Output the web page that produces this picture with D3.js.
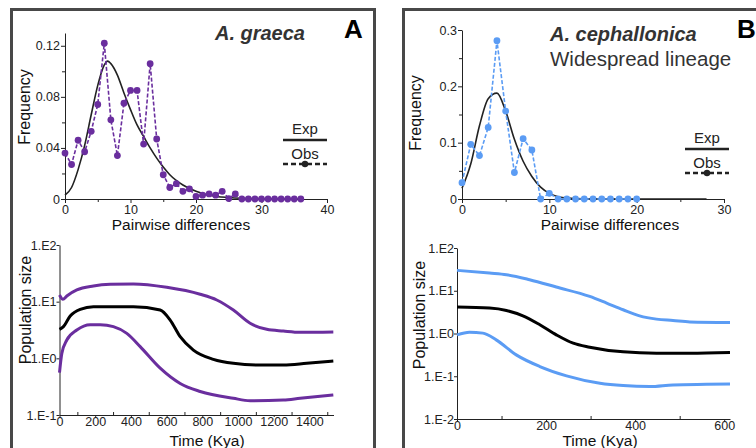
<!DOCTYPE html>
<html>
<head>
<meta charset="utf-8">
<script src="https://cdn.jsdelivr.net/npm/d3@7"></script>
<style>
  body { margin: 0; background: #fff; }
  svg, svg text { font-family: "Liberation Sans", Arial, sans-serif; }
  .axis path, .axis line { stroke: #222; }
</style>
</head>
<body>
<div id="chart-area"></div>
<script>
// ---- data: mismatch distributions ----
const obsA = [0.036, 0.027, 0.046, 0.037, 0.053, 0.074, 0.122, 0.062, 0.034, 0.075,
  0.085, 0.085, 0.043, 0.106, 0.047, 0.019, 0.009, 0.012, 0.006, 0.008,
  0.002, 0.003, 0.004, 0.003, 0.006, 0.0003, 0.004, 0, 0, 0, 0, 0, 0, 0, 0, 0, 0];
const expAx = [0, 1, 2, 3, 4, 5, 6, 6.5, 7, 8, 9, 10, 11, 12, 13, 14, 15, 16, 18, 20, 22, 25, 30, 36];
const expAy = [0.003, 0.009, 0.023, 0.042, 0.066, 0.089, 0.105, 0.108, 0.106, 0.097, 0.083, 0.07,
  0.058, 0.049, 0.04, 0.032, 0.025, 0.019, 0.011, 0.006, 0.003, 0.0012, 0.0002, 0];

const obsB = [0.029, 0.097, 0.077, 0.127, 0.281, 0.156, 0.047, 0.107, 0.087, 0, 0.01,
  0, 0, 0, 0, 0, 0, 0, 0, 0, 0];
const expBx = [0, 1, 2, 3, 4, 5, 6, 7, 8, 9, 10, 11, 12, 14, 20, 28];
const expBy = [0.019, 0.062, 0.13, 0.178, 0.188, 0.156, 0.106, 0.067, 0.04, 0.021, 0.01,
  0.004, 0.0015, 0.0003, 0, 0];

// ---- data: skyline plots (time in Kya, population size) ----
const upperAt = [0, 19, 41, 97, 190, 284, 414, 601, 788, 881, 974, 1068, 1161, 1254, 1348, 1534];
const upperA = [13.1, 11.0, 12.6, 16.1, 18.9, 20.2, 20.5, 17.9, 13.5, 10.7, 7.1, 4.15, 3.25, 3.03, 2.88, 2.92];
const medianAt = [0, 22, 60, 116, 190, 414, 564, 620, 676, 750, 862, 974, 1124, 1254, 1385, 1534];
const medianA = [3.25, 3.62, 5.58, 7.33, 8.17, 8.17, 7.13, 4.74, 2.41, 1.4, 0.96, 0.817, 0.762, 0.762, 0.817, 0.897];
const lowerAt = [0, 13, 41, 97, 172, 228, 302, 377, 452, 564, 676, 788, 974, 1068, 1254, 1348, 1534];
const lowerA = [0.56, 1.22, 2.11, 3.16, 3.93, 3.93, 3.62, 2.76, 1.61, 0.67, 0.36, 0.26, 0.197, 0.179, 0.184, 0.197, 0.225];

const upperBt = [0, 73, 111, 163, 223, 298, 336, 373, 410, 448, 485, 523, 613];
const upperB = [30, 25.9, 23.7, 18.1, 12.2, 7.36, 5.14, 3.59, 2.59, 2.17, 2.02, 1.87, 1.81];
const medianBt = [0, 73, 111, 148, 186, 223, 261, 298, 373, 448, 523, 613];
const medianB = [4.14, 3.93, 3.46, 2.59, 1.6, 0.93, 0.593, 0.479, 0.372, 0.346, 0.346, 0.359];
const lowerBt = [0, 28, 58, 88, 133, 186, 246, 321, 373, 433, 485, 560, 613];
const lowerB = [0.93, 1.07, 1.02, 0.71, 0.316, 0.169, 0.102, 0.0686, 0.0604, 0.0573, 0.0627, 0.0649, 0.0661];

const logLabels = { "100": "1.E2", "10": "1.E1", "1": "1.E0", "0.1": "1.E-1", "0.01": "1.E-2" };

const purple = "#6a2e9e";
const blue = "#5b9cf4";

const svg = d3.select("#chart-area").append("svg")
  .attr("width", 756)
  .attr("height", 448)

// panel frames
svg.append("rect")
  .attr("x", 11.5).attr("y", 9.5).attr("width", 363).attr("height", 460)
  .attr("fill", "none").attr("stroke", "#484848").attr("stroke-width", 3)
svg.append("rect")
  .attr("x", 403.5).attr("y", 9.5).attr("width", 400).attr("height", 460)
  .attr("fill", "none").attr("stroke", "#484848").attr("stroke-width", 3)

// give d3 axes our font
function styleAxis(g) {
  g.attr("font-family", "Liberation Sans, Arial, sans-serif")
    .attr("font-size", 12.5)
  g.selectAll("text").attr("fill", "#222")
}

function mismatch(cfg) {
  const x = d3.scaleLinear().domain(cfg.xDomain).range(cfg.xRange)
  const y = d3.scaleLinear().domain(cfg.yDomain).range(cfg.yRange)

  // minor ticks
  svg.append("g")
    .attr("class", "axis")
    .attr("transform", `translate(0,${cfg.yRange[0]})`)
    .call(d3.axisBottom(x).tickValues(cfg.xMinor).tickSize(3).tickFormat(""))
    .call(g => g.select(".domain").remove())
  svg.append("g")
    .attr("class", "axis")
    .attr("transform", `translate(${cfg.xRange[0]},0)`)
    .call(d3.axisLeft(y).tickValues(cfg.yMinor).tickSize(3).tickFormat(""))
    .call(g => g.select(".domain").remove())

  svg.append("g")
    .attr("class", "axis")
    .attr("transform", `translate(0,${cfg.yRange[0]})`)
    .call(d3.axisBottom(x).tickValues(cfg.xTicks).tickSize(4).tickSizeOuter(0).tickPadding(2))
    .call(styleAxis)
  svg.append("g")
    .attr("class", "axis")
    .attr("transform", `translate(${cfg.xRange[0]},0)`)
    .call(d3.axisLeft(y).tickValues(cfg.yTicks).tickSize(4).tickSizeOuter(0).tickPadding(1)
      .tickFormat(d => d === 0 ? "0" : d3.format(cfg.yFmt)(d)))
    .call(styleAxis)

  // expected
  const expLine = d3.line()
    .x((d, i) => x(cfg.expX[i]))
    .y(d => y(d))
    .curve(d3.curveMonotoneX)
  svg.append("path")
    .datum(cfg.expY)
    .attr("d", expLine)
    .attr("fill", "none")
    .attr("stroke", "#222")
    .attr("stroke-width", 1.6)

  // observed
  const obsLine = d3.line().x((d, i) => x(i)).y(d => y(d))
  svg.append("path")
    .datum(cfg.obs)
    .attr("d", obsLine)
    .attr("fill", "none")
    .attr("stroke", cfg.color)
    .attr("stroke-width", 1.6)
    .attr("stroke-dasharray", "4,2")
  svg.selectAll(null)
    .data(cfg.obs)
    .enter()
    .append("circle")
    .attr("cx", (d, i) => x(i))
    .attr("cy", d => y(d))
    .attr("r", 3.4)
    .attr("fill", cfg.color)

  // axis titles
  svg.append("text")
    .attr("x", (cfg.xRange[0] + cfg.xRange[1]) / 2 + cfg.xLabelShift)
    .attr("y", 230)
    .attr("text-anchor", "middle")
    .attr("font-size", "15.5px")
    .attr("fill", "#111")
    .text("Pairwise differences")
  svg.append("text")
    .attr("transform", `translate(${cfg.yLabelX},${cfg.yLabelY}) rotate(-90)`)
    .attr("text-anchor", "middle")
    .attr("font-size", "16px")
    .attr("fill", "#111")
    .text("Frequency")

  // legend
  const lx = cfg.legendX
  const ly = cfg.legendY
  svg.append("text")
    .attr("x", lx).attr("y", ly).attr("text-anchor", "middle")
    .attr("font-size", "15px").attr("fill", "#222").text("Exp")
  svg.append("line")
    .attr("x1", lx - 22).attr("x2", lx + 22).attr("y1", ly + 6).attr("y2", ly + 6)
    .attr("stroke", "#222").attr("stroke-width", 2.5)
  svg.append("text")
    .attr("x", lx).attr("y", ly + 25).attr("text-anchor", "middle")
    .attr("font-size", "15px").attr("fill", "#222").text("Obs")
  svg.append("line")
    .attr("x1", lx - 22).attr("x2", lx + 22).attr("y1", ly + 30).attr("y2", ly + 30)
    .attr("stroke", "#222").attr("stroke-width", 2.5).attr("stroke-dasharray", "5,3")
  svg.append("circle")
    .attr("cx", lx).attr("cy", ly + 30).attr("r", 3.2).attr("fill", "#222")
}

function skyline(cfg) {
  const x = d3.scaleLinear().domain(cfg.xDomain).range(cfg.xRange)
  const y = d3.scaleLog().domain(cfg.yDomain).range(cfg.yRange)

  svg.append("g")
    .attr("class", "axis")
    .attr("transform", `translate(0,${cfg.yRange[0]})`)
    .call(d3.axisTop(x).tickValues(cfg.xMinor).tickSize(3).tickFormat(""))
    .call(g => g.select(".domain").remove())
  svg.append("g")
    .attr("class", "axis")
    .attr("transform", `translate(0,${cfg.yRange[0]})`)
    .call(d3.axisBottom(x).tickValues(cfg.xTicks).tickSize(2).tickSizeOuter(0).tickPadding(0)
      .tickFormat(d3.format("d")))
    .call(styleAxis)
  svg.append("g")
    .attr("class", "axis")
    .attr("transform", `translate(${cfg.xRange[0]},0)`)
    .call(d3.axisLeft(y).tickValues(cfg.yTicks).tickSize(3).tickSizeOuter(0).tickPadding(0)
      .tickFormat(d => logLabels[String(d)]))
    .call(styleAxis)

  const series = [
    { t: cfg.upperT, values: cfg.upper, color: cfg.color },
    { t: cfg.lowerT, values: cfg.lower, color: cfg.color },
    { t: cfg.medianT, values: cfg.median, color: "#000" }
  ]
  svg.selectAll(null)
    .data(series)
    .enter()
    .append("path")
    .attr("d", s => d3.line()
      .x((d, i) => x(s.t[i]))
      .y(d => y(d))
      .curve(d3.curveMonotoneX)(s.values))
    .attr("fill", "none")
    .attr("stroke", d => d.color)
    .attr("stroke-width", 3)

  svg.append("text")
    .attr("x", cfg.xLabelX)
    .attr("y", 446)
    .attr("text-anchor", "middle")
    .attr("font-size", "15.5px")
    .attr("fill", "#111")
    .text("Time (Kya)")
  svg.append("text")
    .attr("transform", `translate(${cfg.yLabelX},${cfg.yLabelY}) rotate(-90)`)
    .attr("text-anchor", "middle")
    .attr("font-size", "16px")
    .attr("fill", "#111")
    .text("Population size")
}

mismatch({
  xDomain: [0, 40], xRange: [65, 327],
  yDomain: [0, 0.13], yRange: [199, 33],
  xTicks: [0, 10, 20, 30, 40], xMinor: [5, 15, 25, 35],
  yTicks: [0, 0.04, 0.08, 0.12], yMinor: [0.02, 0.06, 0.1], yFmt: ".2f",
  obs: obsA, expX: expAx, expY: expAy, color: purple,
  xLabelShift: -15, yLabelX: 30, yLabelY: 107,
  legendX: 305, legendY: 134
})

mismatch({
  xDomain: [0, 30], xRange: [462, 724],
  yDomain: [0, 0.3], yRange: [199, 30],
  xTicks: [0, 10, 20, 30], xMinor: [5, 15, 25],
  yTicks: [0, 0.1, 0.2, 0.3], yMinor: [0.05, 0.15, 0.25], yFmt: ".1f",
  obs: obsB, expX: expBx, expY: expBy, color: blue,
  xLabelShift: 17, yLabelX: 421, yLabelY: 113,
  legendX: 707, legendY: 143
})

skyline({
  xDomain: [0, 1535], xRange: [59.5, 333.5],
  yDomain: [0.1, 100], yRange: [415, 245],
  xTicks: [0, 200, 400, 600, 800, 1000, 1200, 1400],
  xMinor: [100, 300, 500, 700, 900, 1100, 1300, 1500],
  yTicks: [0.1, 1, 10, 100],
  upperT: upperAt, upper: upperA, medianT: medianAt, median: medianA,
  lowerT: lowerAt, lower: lowerA, color: purple,
  xLabelX: 207, yLabelX: 31, yLabelY: 310
})

skyline({
  xDomain: [0, 613], xRange: [457, 730],
  yDomain: [0.01, 100], yRange: [419, 248],
  xTicks: [0, 200, 400, 600], xMinor: [100, 300, 500],
  yTicks: [0.01, 0.1, 1, 10, 100],
  upperT: upperBt, upper: upperB, medianT: medianBt, median: medianB,
  lowerT: lowerBt, lower: lowerB, color: blue,
  xLabelX: 600, yLabelX: 425, yLabelY: 315
})

// titles
svg.append("text")
  .attr("x", 305).attr("y", 40).attr("text-anchor", "end")
  .attr("font-size", "20px").attr("font-weight", "bold").attr("font-style", "italic")
  .attr("fill", "#333").text("A. graeca")
svg.append("text")
  .attr("x", 344).attr("y", 38)
  .attr("font-size", "26px").attr("font-weight", "bold").attr("fill", "#000").text("A")

svg.append("text")
  .attr("x", 550).attr("y", 41)
  .attr("font-size", "20px").attr("font-weight", "bold").attr("font-style", "italic")
  .attr("fill", "#333").text("A. cephallonica")
svg.append("text")
  .attr("x", 550).attr("y", 66)
  .attr("font-size", "20.5px").attr("fill", "#333").text("Widespread lineage")
svg.append("text")
  .attr("x", 737).attr("y", 38)
  .attr("font-size", "26px").attr("font-weight", "bold").attr("fill", "#000").text("B")
</script>
</body>
</html>
